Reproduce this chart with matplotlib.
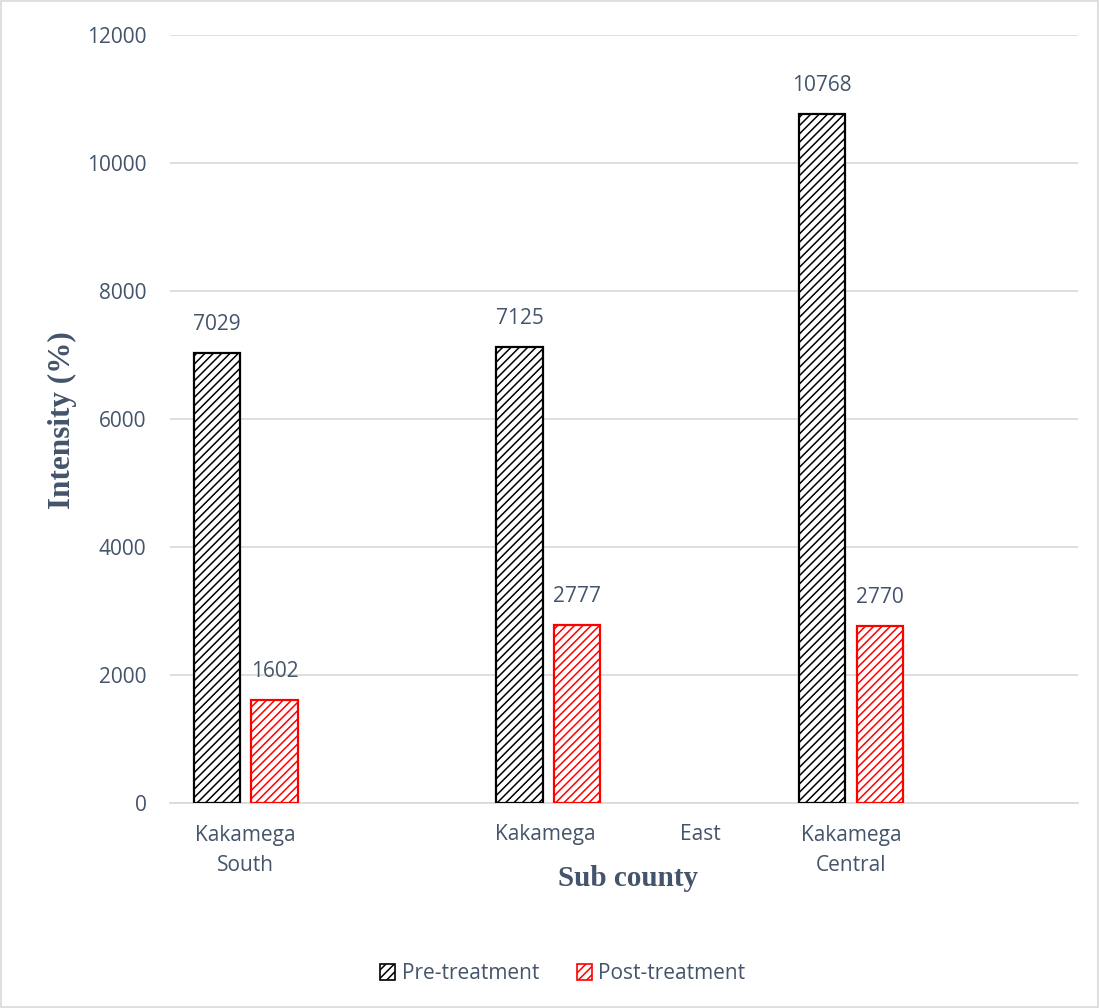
import matplotlib.pyplot as plt
from matplotlib.patches import Rectangle, Patch

# ---- data ----------------------------------------------------------------
subcounties = ["Kakamega\nSouth", "Kakamega East", "Kakamega\nCentral"]
pre_treatment = [7029, 7125, 10768]
post_treatment = [1602, 2777, 2770]

TXT = "#44546A"
GRID = "#D9D9D9"
FS = 15

plt.rcParams["font.family"] = ["Open Sans", "DejaVu Sans"]
plt.rcParams["hatch.linewidth"] = 1.1

fig = plt.figure(figsize=(10.99, 10.08), dpi=100)
ax = fig.add_axes([0.1547, 0.2034, 0.8262, 0.7619])

W = 0.153
x = [i for i in range(len(subcounties))]
xpre = [i + 0.155 for i in x]
xpost = [i + 0.345 for i in x]

ax.bar(xpre, pre_treatment, width=W, facecolor="white", edgecolor="black",
       hatch="////", lw=1.6, zorder=3)
ax.bar(xpost, post_treatment, width=W, facecolor="white", edgecolor="red",
       hatch="////", lw=1.6, zorder=3)

for xs, vals in ((xpre, pre_treatment), (xpost, post_treatment)):
    for xx, v in zip(xs, vals):
        ax.annotate(f"{v}", (xx, v), xytext=(0, 13), textcoords="offset points",
                    ha="center", va="bottom", fontsize=FS, color=TXT)

ax.set_xlim(0, 3)
ax.set_ylim(0, 12000)
ax.set_yticks(range(0, 12001, 2000))
ax.tick_params(axis="y", length=0, pad=17, labelsize=FS, labelcolor=TXT)
ax.yaxis.grid(True, color=GRID, lw=1.2, zorder=0)
for sp in ("top", "right", "left"):
    ax.spines[sp].set_visible(False)
ax.spines["bottom"].set_color(GRID)
ax.spines["bottom"].set_linewidth(1.2)

ax.set_xticks([0.25, 2.25])
ax.set_xticklabels([subcounties[0], subcounties[2]], fontsize=FS, color=TXT,
                   linespacing=1.55)
ax.tick_params(axis="x", length=0, pad=16)
# the East label is spread over the width of its slot
east_a, east_b = subcounties[1].split(" ")
ax.text(1.239, -0.028, east_a, transform=ax.get_xaxis_transform(),
        ha="center", va="top", fontsize=FS, color=TXT)
ax.text(1.751, -0.028, east_b, transform=ax.get_xaxis_transform(),
        ha="center", va="top", fontsize=FS, color=TXT)

fig.text(0.571, 0.128, "Sub county", ha="center", va="center",
         fontsize=21, fontweight="bold", family="Liberation Serif", color=TXT)
fig.text(0.057, 0.583, "Intensity (%)", ha="center", va="center", rotation=90,
         fontsize=22.5, fontweight="bold", family="Liberation Serif", color=TXT)

handles = [Patch(facecolor="white", edgecolor="black", hatch="////", lw=1.2),
           Patch(facecolor="white", edgecolor="red", hatch="////", lw=1.2)]
fig.legend(handles, ["Pre-treatment", "Post-treatment"], loc="center",
           bbox_to_anchor=(0.512, 0.034), ncol=2, frameon=False, fontsize=FS,
           labelcolor=TXT, handlelength=0.75, handleheight=0.75,
           handletextpad=0.3, columnspacing=1.8)

fig.add_artist(Rectangle((0.0005, 0.0005), 0.999, 0.999, transform=fig.transFigure,
                         fill=False, edgecolor="#D9D9D9", lw=1.2))

fig.savefig("out.png", dpi=100, facecolor="white")
